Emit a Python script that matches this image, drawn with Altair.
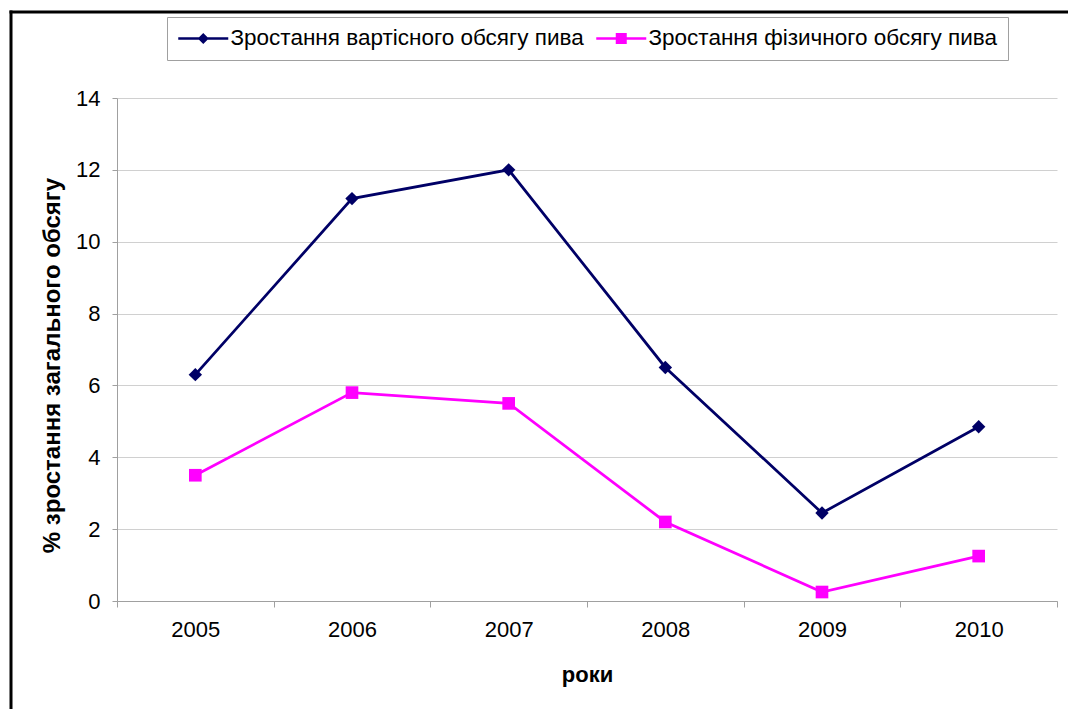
import altair as alt
import pandas as pd

# Annual growth, %
years = ["2005", "2006", "2007", "2008", "2009", "2010"]
value_growth = [6.3, 11.2, 12.0, 6.5, 2.45, 4.85]
volume_growth = [3.5, 5.8, 5.5, 2.2, 0.25, 1.25]

series_names = ["Зростання вартісного обсягу пива", "Зростання фізичного обсягу пива"]
series_colors = ["#000066", "#FF00FF"]
y_ticks = [0, 2, 4, 6, 8, 10, 12, 14]

rows = []
for name, vals in zip(series_names, [value_growth, volume_growth]):
    for yr, v in zip(years, vals):
        rows.append({"year": yr, "series": name, "value": v})
df = pd.DataFrame(rows)

FONT = "Liberation Sans"
AXIS_GRAY = "#a0a0a0"

x_enc = alt.X(
    "year:N",
    sort=years,
    scale=alt.Scale(type="band", paddingInner=0, paddingOuter=0),
    axis=alt.Axis(
        title="роки",
        labelAngle=0,
        tickBand="extent",
        grid=False,
        domainColor=AXIS_GRAY,
        tickColor=AXIS_GRAY,
        tickSize=6,
        labelPadding=12,
        titlePadding=24,
    ),
)
y_enc = alt.Y(
    "value:Q",
    scale=alt.Scale(domain=[0, 14]),
    axis=alt.Axis(
        title="% зростання загального обсягу",
        titleFontSize=24,
        titleY=267,
        values=y_ticks,
        grid=True,
        gridColor="#d0d0d0",
        domainColor=AXIS_GRAY,
        tickColor=AXIS_GRAY,
        tickSize=5,
        labelPadding=12,
        titlePadding=11,
    ),
)


def series_color(legend=None):
    return alt.Color(
        "series:N",
        scale=alt.Scale(domain=series_names, range=series_colors),
        legend=legend,
    )


base = alt.Chart(df)

lines = base.mark_line(strokeWidth=2.75).encode(x=x_enc, y=y_enc, color=series_color())

diamonds = base.transform_filter(alt.datum.series == series_names[0]).mark_point(
    filled=True, shape="diamond", size=180, opacity=1
).encode(x=x_enc, y=y_enc, color=series_color())

squares = base.transform_filter(alt.datum.series == series_names[1]).mark_point(
    filled=True, shape="square", size=160, opacity=1
).encode(x=x_enc, y=y_enc, color=series_color())

# Legend key symbols: a line segment with the series marker in its middle
key_paths = [
    "M-1,-0.125L4,-0.125L4,0.125L-1,0.125Z M1.5,-0.55L2.05,0L1.5,0.55L0.95,0Z",
    "M-1,-0.125L4,-0.125L4,0.125L-1,0.125Z M0.95,-0.55L2.05,-0.55L2.05,0.55L0.95,0.55Z",
]

legend = alt.Legend(
    title=None,
    orient="none",
    legendX=50,
    legendY=-81,
    direction="horizontal",
    symbolSize=400,
    symbolOpacity=1,
    symbolStrokeWidth=0,
    labelFont=FONT,
    labelFontSize=22.5,
    labelColor="black",
    labelLimit=600,
    labelOffset=31,
    columnPadding=11,
    padding=10,
    strokeColor=AXIS_GRAY,
    fillColor="white",
)

key = base.mark_point(filled=True, opacity=0, size=400).encode(
    x=x_enc, y=y_enc,
    color=series_color(legend),
    shape=alt.Shape(
        "series:N",
        scale=alt.Scale(domain=series_names, range=key_paths),
        legend=legend,
    ),
)

# Outer black frame: its left and top edges
frame_df = pd.DataFrame({"k": [0]})
frame_left = alt.Chart(frame_df).mark_rule(stroke="black", strokeWidth=3).encode(
    x=alt.value(-106), y=alt.value(-87.5), y2=alt.value(620),
)
frame_top = alt.Chart(frame_df).mark_rule(stroke="black", strokeWidth=3).encode(
    y=alt.value(-86), x=alt.value(-107.5), x2=alt.value(951),
)

chart = alt.layer(frame_left, frame_top, lines, diamonds, squares, key).resolve_scale(
    color="independent", shape="independent"
).properties(
    width=940,
    height=503,
    autosize=alt.AutoSizeParams(type="none"),
    padding={"left": 117, "top": 98, "right": 11, "bottom": 108},
    background="white",
).configure_view(stroke=None).configure_axis(
    labelFont=FONT,
    labelFontSize=22,
    labelColor="black",
    titleFont=FONT,
    titleFontSize=22,
    titleFontWeight="bold",
    titleColor="black",
)

chart.save("out.html", embed_options={"renderer": "svg", "actions": False})
